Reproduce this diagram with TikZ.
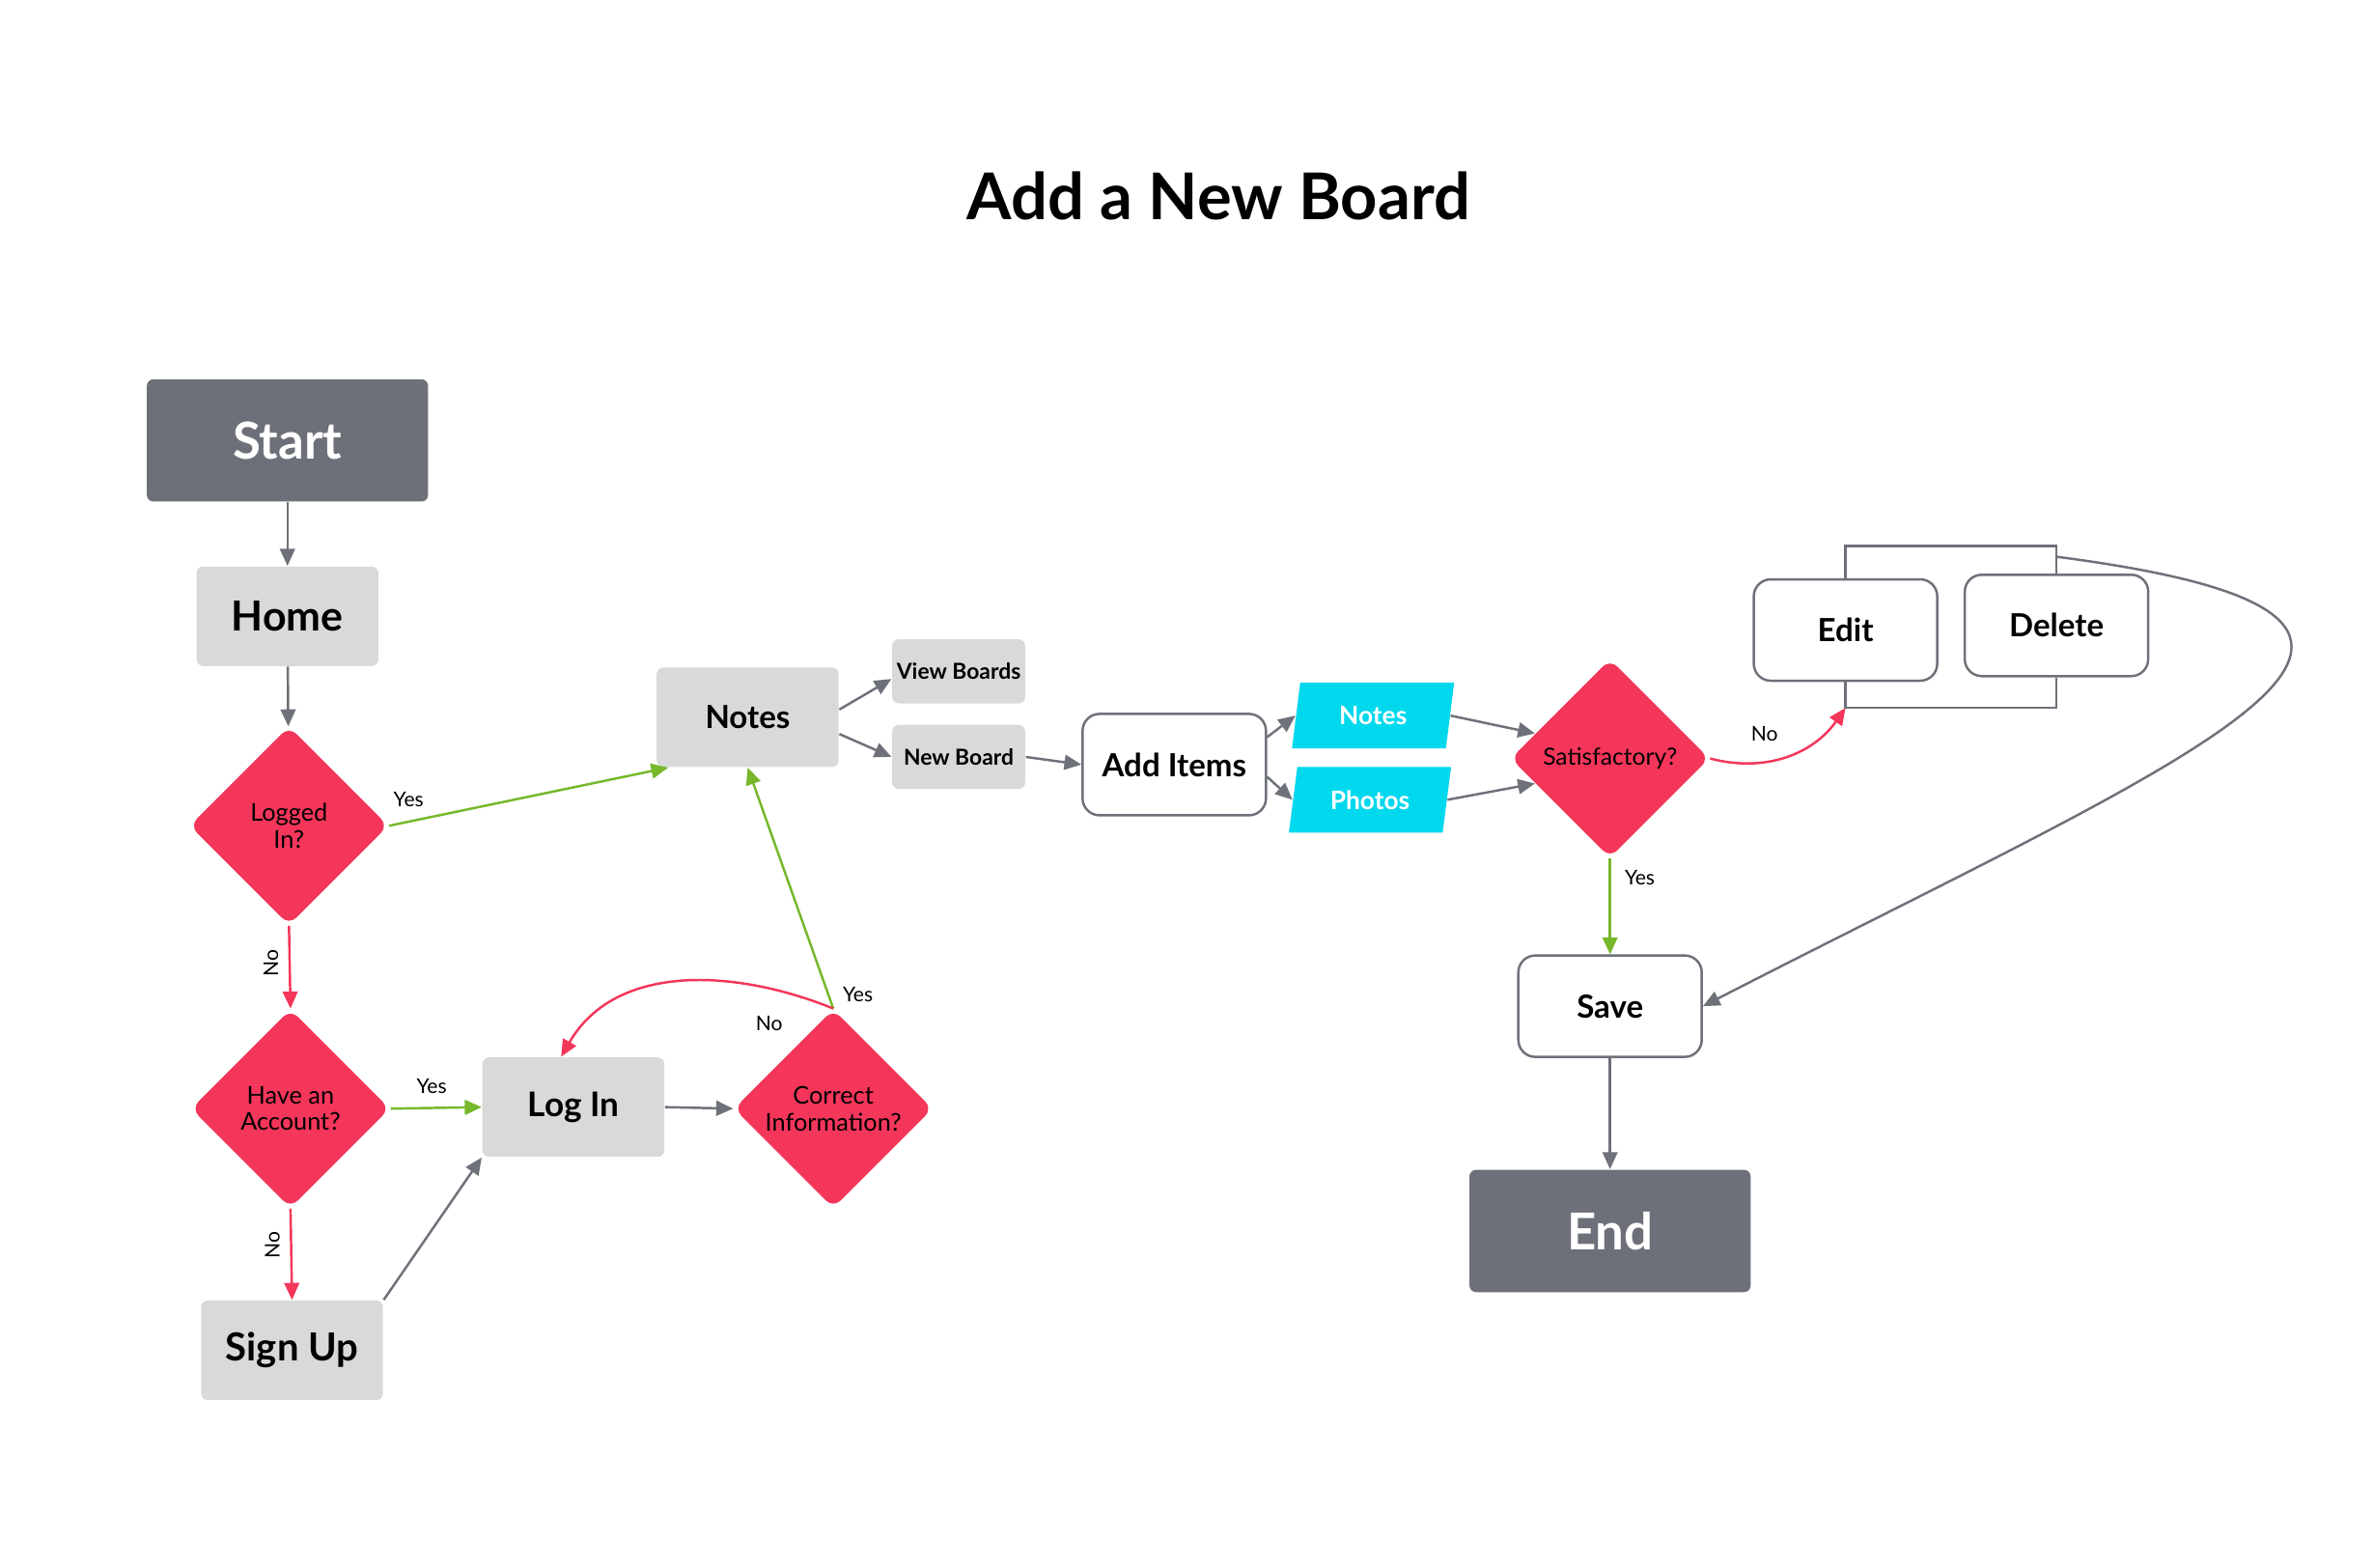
\documentclass[tikz,border=0pt]{standalone}
\usepackage{fontspec}
\setmainfont{Lato}
\usepackage{xcolor}
\usepackage{tikz}
\usetikzlibrary{shapes.geometric}
\usetikzlibrary{arrows.meta}
\usetikzlibrary{calc}

\definecolor{darkbox}{HTML}{6D7079}
\definecolor{lightbox}{HTML}{D9D9D9}
\definecolor{decred}{HTML}{F4365A}
\definecolor{yesgreen}{HTML}{76B82A}
\definecolor{datacyan}{HTML}{00D8EE}
\definecolor{linegray}{HTML}{6E7179}

\tikzset{
  conn/.style={draw=linegray, line width=0.7pt, -{Triangle[length=5pt,width=4.4pt]}},
  yesline/.style={conn, draw=yesgreen},
  noline/.style={conn, draw=decred},
  plainline/.style={draw=linegray, line width=0.7pt},
  lbl/.style={font=\fontsize{6}{7}\selectfont, inner sep=1pt},
  terminal/.style={rectangle, rounded corners=2pt, fill=darkbox, text=white, minimum width=2.914cm, minimum height=1.267cm, font=\bfseries\fontsize{15}{18}\selectfont},
  page/.style={rectangle, rounded corners=2pt, fill=lightbox, minimum width=1.885cm, minimum height=1.03cm},
  option/.style={rectangle, rounded corners=2pt, fill=lightbox, minimum width=1.378cm, minimum height=0.665cm, inner sep=1pt, font=\bfseries\fontsize{6.5}{8}\selectfont},
  decision/.style={diamond, rounded corners=3pt, fill=decred, minimum width=2.06cm, minimum height=2.06cm, inner sep=0pt, align=center, font=\fontsize{7.2}{7.8}\selectfont},
  action/.style={rectangle, rounded corners=5pt, draw=linegray, line width=0.7pt, fill=white, minimum width=1.9cm, minimum height=1.05cm},
  data/.style={trapezium, trapezium left angle=72, trapezium right angle=108, trapezium stretches body, fill=datacyan, text=white, minimum width=1.68cm, minimum height=0.68cm, inner sep=1pt, font=\bfseries\fontsize{7.5}{9}\selectfont}
}

\begin{document}
\begin{tikzpicture}[x=0.015838cm, y=-0.015838cm]
  \useasboundingbox[fill=white] (0,0) rectangle (1552,1025);

  \node[font=\bfseries\fontsize{19}{22}\selectfont] (title) at (797,128) {Add a New Board};

  % start / end
  \node[terminal] (start) at (188,288) {Start};
  \node[terminal] (end) at (1053,805) {End};

  % grey pages
  \node[page, font=\bfseries\fontsize{12.2}{14}\selectfont] (home) at (188,403) {Home};
  \node[page, font=\bfseries\fontsize{11.4}{14}\selectfont] (signup) at (191,883) {Sign Up};
  \node[page, font=\bfseries\fontsize{10}{12}\selectfont] (login) at (375,724) {Log In};
  \node[page, font=\bfseries\fontsize{9.4}{12}\selectfont] (notes) at (489,469) {Notes};
  \node[option] (view) at (627,439) {View Boards};
  \node[option] (new) at (627,495) {New Board};

  % decisions
  \node[decision] (logged) at (189,540) {Logged\\In?};
  \node[decision] (account) at (190,725) {Have an\\Account?};
  \node[decision] (correct) at (545,725) {Correct\\Information?};
  \node[decision, font=\fontsize{7}{8}\selectfont] (sat) at (1053,496) {Satisfactory?};

  % white boxes
  \begin{scope}[every node/.append style={font=\bfseries\fontsize{9.4}{12}\selectfont}]
    \node[action] (add) at (768,500) {Add Items};
    \node[action] (edit) at (1207,412) {Edit};
    \node[action] (del) at (1345,409) {Delete};
    \node[action] (save) at (1053,658) {Save};
  \end{scope}

  % inputs
  \node[data] (inotes) at (898,468) {Notes};
  \node[data] (iphotos) at (896,523) {Photos};

  % login part
  \draw[conn] (start) -- (home);
  \draw[conn] (home) -- (logged);
  \draw[yesline] (logged.east) -- ($(notes.south west)+(8,0)$)
    node[lbl, pos=0.07, above=3pt] {Yes};
  \draw[noline] (logged.south) -- (account.north)
    node[lbl, rotate=90, pos=0.45, above=2pt] {No};
  \draw[yesline] (account.east) -- (login.west)
    node[lbl, pos=0.45, above=3pt] {Yes};
  \draw[noline] (account.south) -- (signup.north)
    node[lbl, rotate=90, pos=0.4, above=2pt] {No};
  \draw[conn] (signup.north east) -- (login.south west);
  \draw[conn] (login.east) -- (correct.west);
  \draw[yesline] (correct.north) -- (notes.south)
    node[lbl, pos=0.06, right=3pt] {Yes};
  \draw[noline] (correct.north) to[out=158, in=60] ($(login.north)+(-8,0)$);
  \node[lbl] (nolabel) at (503,669) {No};

  % boards
  \draw[conn] ($(notes.east)+(0,-5)$) -- ($(view.west)+(0,5)$);
  \draw[conn] ($(notes.east)+(0,11)$) -- (new.west);
  \draw[conn] (new.east) -- (add.west);
  \draw[conn] ($(add.east)+(0,-18)$) -- (inotes.west);
  \draw[conn] ($(add.east)+(0,8)$) -- (iphotos.west);
  \draw[conn] (inotes.east) -- ($(sat.west)!0.25!(sat.north)$);
  \draw[conn] (iphotos.east) -- ($(sat.west)!0.25!(sat.south)$);

  % edit / delete bracket
  \draw[plainline] (edit.south) -- ++(0,17) coordinate (ebr) -| (del.south);
  \draw[plainline] (edit.north) -- ++(0,-21) -| (del.north);
  \coordinate (dtop) at ($(del.north)+(0,-11)$);

  \draw[noline] (sat.east) to[out=-15, in=235] (ebr);
  \node[lbl] (nosat) at (1154,480) {No};
  \draw[yesline] (sat.south) -- (save.north)
    node[lbl, pos=0.2, right=3pt] {Yes};
  \draw[conn] (dtop) .. controls (1660,405) and (1443,489) .. (save.east);
  \draw[conn] (save) -- (end);

\end{tikzpicture}
\end{document}
